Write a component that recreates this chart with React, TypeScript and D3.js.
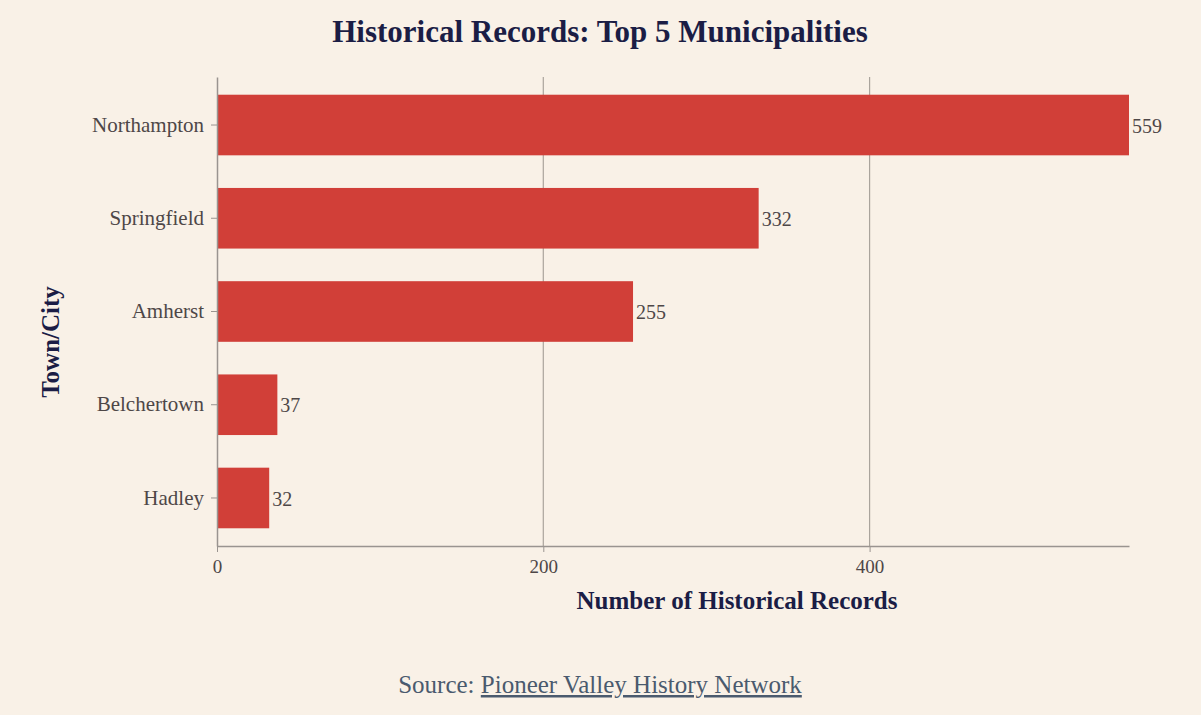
import React, { useEffect, useRef } from 'react';
import * as d3 from 'd3';

const towns = ['Northampton', 'Springfield', 'Amherst', 'Belchertown', 'Hadley'];
const records = [559, 332, 255, 37, 32];
const xTicks = [0, 200, 400];

const W = 1201;
const H = 715;
const FONT = '"Liberation Serif", "DejaVu Serif", serif';

const App: React.FC = () => {
    const svgRef = useRef<SVGSVGElement>(null);

    useEffect(() => {
        document.body.style.margin = '0';
        document.body.style.background = '#f9f1e7';
        if (!svgRef.current) return;

        const svg = d3.select(svgRef.current);
        svg.selectAll('*').remove();

        const margin = { top: 77, right: 72, bottom: 169, left: 217 };
        const innerW = W - margin.left - margin.right;
        const innerH = H - margin.top - margin.bottom;

        svg.append('rect').attr('width', W).attr('height', H).attr('fill', '#f9f1e7');

        const g = svg.append('g').attr('transform', `translate(${margin.left},${margin.top})`);

        const x = d3.scaleLinear().domain([0, d3.max(records) as number]).range([0, innerW]);
        const y = d3.scaleBand<string>().domain(towns).range([0, innerH]).paddingInner(0.35).paddingOuter(0.19);

        // gridlines
        g.selectAll('line.grid')
            .data(xTicks.filter(t => t > 0))
            .enter()
            .append('line')
            .attr('class', 'grid')
            .attr('x1', d => x(d))
            .attr('x2', d => x(d))
            .attr('y1', 0)
            .attr('y2', innerH)
            .attr('stroke', '#aaa49c')
            .attr('stroke-width', 1.2);

        // bars
        g.selectAll('rect.bar')
            .data(towns)
            .enter()
            .append('rect')
            .attr('class', 'bar')
            .attr('x', 0)
            .attr('y', d => y(d) as number)
            .attr('width', (_, i) => x(records[i]))
            .attr('height', y.bandwidth())
            .attr('fill', '#d13f38');

        // value labels
        g.selectAll('text.value')
            .data(towns)
            .enter()
            .append('text')
            .attr('class', 'value')
            .attr('x', (_, i) => x(records[i]) + 3)
            .attr('y', d => (y(d) as number) + y.bandwidth() / 2 + 3)
            .attr('dominant-baseline', 'middle')
            .style('font-family', FONT)
            .style('font-size', '20px')
            .style('fill', '#4e4747')
            .text((_, i) => records[i]);

        // x axis
        const xAxis = g.append('g')
            .attr('transform', `translate(0,${innerH})`)
            .call(d3.axisBottom(x).tickValues(xTicks).tickSizeInner(6).tickSizeOuter(0).tickPadding(8));
        xAxis.select('.domain').attr('stroke', '#9a9490').attr('stroke-width', 1.5);
        xAxis.selectAll('.tick line').attr('stroke', '#9a9490');
        xAxis.selectAll('.tick text')
            .style('font-family', FONT)
            .style('font-size', '19px')
            .style('fill', '#4e4747');

        // y axis
        const yAxis = g.append('g')
            .call(d3.axisLeft(y).tickSizeInner(6).tickSizeOuter(0).tickPadding(7));
        yAxis.select('.domain').attr('stroke', '#9a9490').attr('stroke-width', 1.5);
        yAxis.selectAll('.tick line').attr('stroke', '#9a9490');
        yAxis.selectAll('.tick text')
            .style('font-family', FONT)
            .style('font-size', '21px')
            .style('fill', '#4e4747');

        // title
        svg.append('text')
            .attr('x', 600)
            .attr('y', 42)
            .attr('text-anchor', 'middle')
            .style('font-family', FONT)
            .style('font-size', '31px')
            .style('font-weight', 'bold')
            .style('fill', '#1b1d45')
            .text('Historical Records: Top 5 Municipalities');

        // axis titles
        svg.append('text')
            .attr('x', 737)
            .attr('y', 609)
            .attr('text-anchor', 'middle')
            .style('font-family', FONT)
            .style('font-size', '25px')
            .style('font-weight', 'bold')
            .style('fill', '#1b1d45')
            .text('Number of Historical Records');

        svg.append('text')
            .attr('transform', 'translate(59,342) rotate(-90)')
            .attr('text-anchor', 'middle')
            .style('font-family', FONT)
            .style('font-size', '25px')
            .style('font-weight', 'bold')
            .style('fill', '#1b1d45')
            .text('Town/City');

        // source
        const src = svg.append('text')
            .attr('x', 600)
            .attr('y', 693)
            .attr('text-anchor', 'middle')
            .style('font-family', FONT)
            .style('font-size', '25px')
            .style('fill', '#4a5a6e');
        src.append('tspan').text('Source: ');
        src.append('tspan')
            .style('text-decoration', 'underline')
            .style('text-decoration-color', '#d13f38')
            .text('Pioneer Valley History Network');
    }, []);

    return <svg ref={svgRef} width={W} height={H} style={{ display: 'block' }} />;
};

export default App;
